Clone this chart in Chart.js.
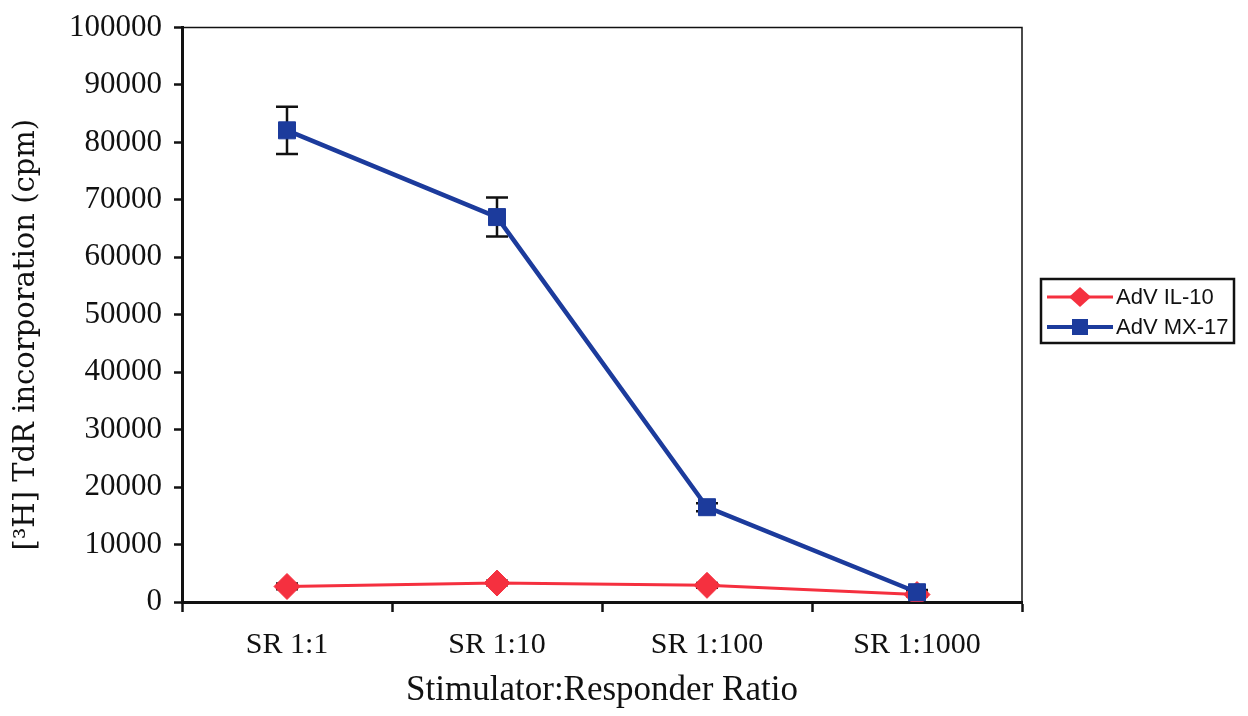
<!DOCTYPE html>
<html>
<head>
<meta charset="utf-8">
<script src="https://cdn.jsdelivr.net/npm/chart.js@4.4.0/dist/chart.umd.min.js"></script>
<style>
html,body{margin:0;padding:0;background:#fff;}
#wrap{position:relative;width:1248px;height:716px;}
</style>
</head>
<body>
<div id="wrap"><canvas id="chart"></canvas></div>
<script>
// values
const categories = ["SR 1:1", "SR 1:10", "SR 1:100", "SR 1:1000"];
const il10 = [2700, 3300, 2900, 1300];
const il10Err = [500, 400, 400, 300];
const mx17 = [82100, 67000, 16500, 1700];
const mx17Err = [4100, 3400, 700, 400];
const yMin = 0, yMax = 100000, yStep = 10000;

const seriesNames = ["AdV IL-10", "AdV MX-17"];
const yTitle = "[³H] TdR incorporation (cpm)";
const RED = "#f5303f";
const BLUE = "#1c3b9c";

// error bars, drawn under the markers
const errorBars = {
  id: "errorBars",
  beforeDatasetsDraw(chart){
    const ctx = chart.ctx;
    const y = chart.scales.y;
    chart.data.datasets.forEach((ds, i) => {
      const meta = chart.getDatasetMeta(i);
      meta.data.forEach((pt, j) => {
        const e = ds.errs[j];
        const top = y.getPixelForValue(ds.data[j] + e);
        const bot = y.getPixelForValue(Math.max(0, ds.data[j] - e));
        ctx.save();
        ctx.strokeStyle = "#111";
        ctx.lineWidth = 2.5;
        ctx.beginPath();
        ctx.moveTo(pt.x, top); ctx.lineTo(pt.x, bot);
        ctx.moveTo(pt.x - 11, top); ctx.lineTo(pt.x + 11, top);
        ctx.moveTo(pt.x - 11, bot); ctx.lineTo(pt.x + 11, bot);
        ctx.stroke();
        ctx.restore();
      });
    });
  }
};

// top/right frame, y title and the boxed legend
const frameAndLegend = {
  id: "frameAndLegend",
  afterDraw(chart){
    const ctx = chart.ctx;
    const a = chart.chartArea;
    ctx.save();
    ctx.strokeStyle = "#111";
    ctx.lineWidth = 1.5;
    ctx.beginPath();
    ctx.moveTo(a.left, a.top); ctx.lineTo(a.right, a.top); ctx.lineTo(a.right, a.bottom);
    ctx.stroke();

    // y axis title, sits a little below the plot centre in the original
    ctx.save();
    ctx.translate(26, (a.top + a.bottom) / 2 + 20);
    ctx.rotate(-Math.PI / 2);
    ctx.font = "29px 'DejaVu Serif', serif";
    ctx.fillStyle = "#111";
    ctx.textAlign = "center";
    ctx.textBaseline = "middle";
    ctx.fillText(yTitle, 0, 0);
    ctx.restore();

    // legend
    const lx = a.right + 19, ly = 279, lw = 193, lh = 64;
    ctx.fillStyle = "#fff";
    ctx.fillRect(lx, ly, lw, lh);
    ctx.lineWidth = 2.5;
    ctx.strokeRect(lx, ly, lw, lh);
    const rows = [
      {name: seriesNames[0], color: RED, shape: "diamond", y: ly + 18, w: 3},
      {name: seriesNames[1], color: BLUE, shape: "square", y: ly + 48, w: 4}
    ];
    ctx.font = "22px 'Liberation Sans', Arial, sans-serif";
    ctx.textBaseline = "middle";
    rows.forEach(r => {
      ctx.strokeStyle = r.color;
      ctx.lineWidth = r.w;
      ctx.beginPath();
      ctx.moveTo(lx + 6, r.y); ctx.lineTo(lx + 72, r.y);
      ctx.stroke();
      ctx.fillStyle = r.color;
      const cx = lx + 39;
      ctx.beginPath();
      if (r.shape === "diamond") {
        ctx.moveTo(cx, r.y - 10); ctx.lineTo(cx + 11, r.y); ctx.lineTo(cx, r.y + 10); ctx.lineTo(cx - 11, r.y);
        ctx.closePath();
      } else {
        ctx.rect(cx - 8, r.y - 8, 16, 16);
      }
      ctx.fill();
      ctx.fillStyle = "#111";
      ctx.fillText(r.name, lx + 75, r.y + 1);
    });
    ctx.restore();
  }
};

new Chart(document.getElementById("chart"), {
  type: "line",
  data: {
    labels: categories,
    datasets: [
      {
        label: seriesNames[0],
        data: il10,
        errs: il10Err,
        order: 1,
        borderColor: RED,
        backgroundColor: RED,
        borderWidth: 3,
        tension: 0,
        pointStyle: "rectRot",
        pointRadius: 13,
        pointBorderWidth: 1,
        pointBorderColor: RED,
        pointBackgroundColor: RED
      },
      {
        label: seriesNames[1],
        data: mx17,
        errs: mx17Err,
        order: 0,
        borderColor: BLUE,
        backgroundColor: BLUE,
        borderWidth: 4.5,
        tension: 0,
        pointStyle: "rect",
        pointRadius: 12,
        pointBorderWidth: 1,
        pointBorderColor: BLUE,
        pointBackgroundColor: BLUE
      }
    ]
  },
  options: {
    responsive: true,
    maintainAspectRatio: false,
    animation: false,
    layout: {padding: {top: 25, right: 226, left: 0, bottom: 0}},
    plugins: {legend: {display: false}, tooltip: {enabled: false}},
    scales: {
      x: {
        offset: true,
        grid: {offset: true, drawOnChartArea: false, tickLength: 10, tickColor: "#111", tickWidth: 2.5},
        border: {color: "#111", width: 3},
        ticks: {color: "#111", padding: 15, font: {family: "'Liberation Serif', serif", size: 30}},
        title: {display: true, text: "Stimulator:Responder Ratio", color: "#111",
                font: {family: "'Liberation Serif', serif", size: 35}, padding: {top: 0}},
        afterFit(scale){ scale.height = 114; }
      },
      y: {
        min: yMin, max: yMax,
        grid: {drawOnChartArea: false, tickLength: 8, tickColor: "#111", tickWidth: 2.5},
        border: {color: "#111", width: 3},
        ticks: {stepSize: yStep, color: "#111", padding: 12,
                font: {family: "'Liberation Serif', serif", size: 31, lineHeight: 1},
                callback: v => String(v)},
        afterFit(scale){ scale.width = 182; }
      }
    }
  },
  plugins: [errorBars, frameAndLegend]
});
</script>
</body>
</html>
